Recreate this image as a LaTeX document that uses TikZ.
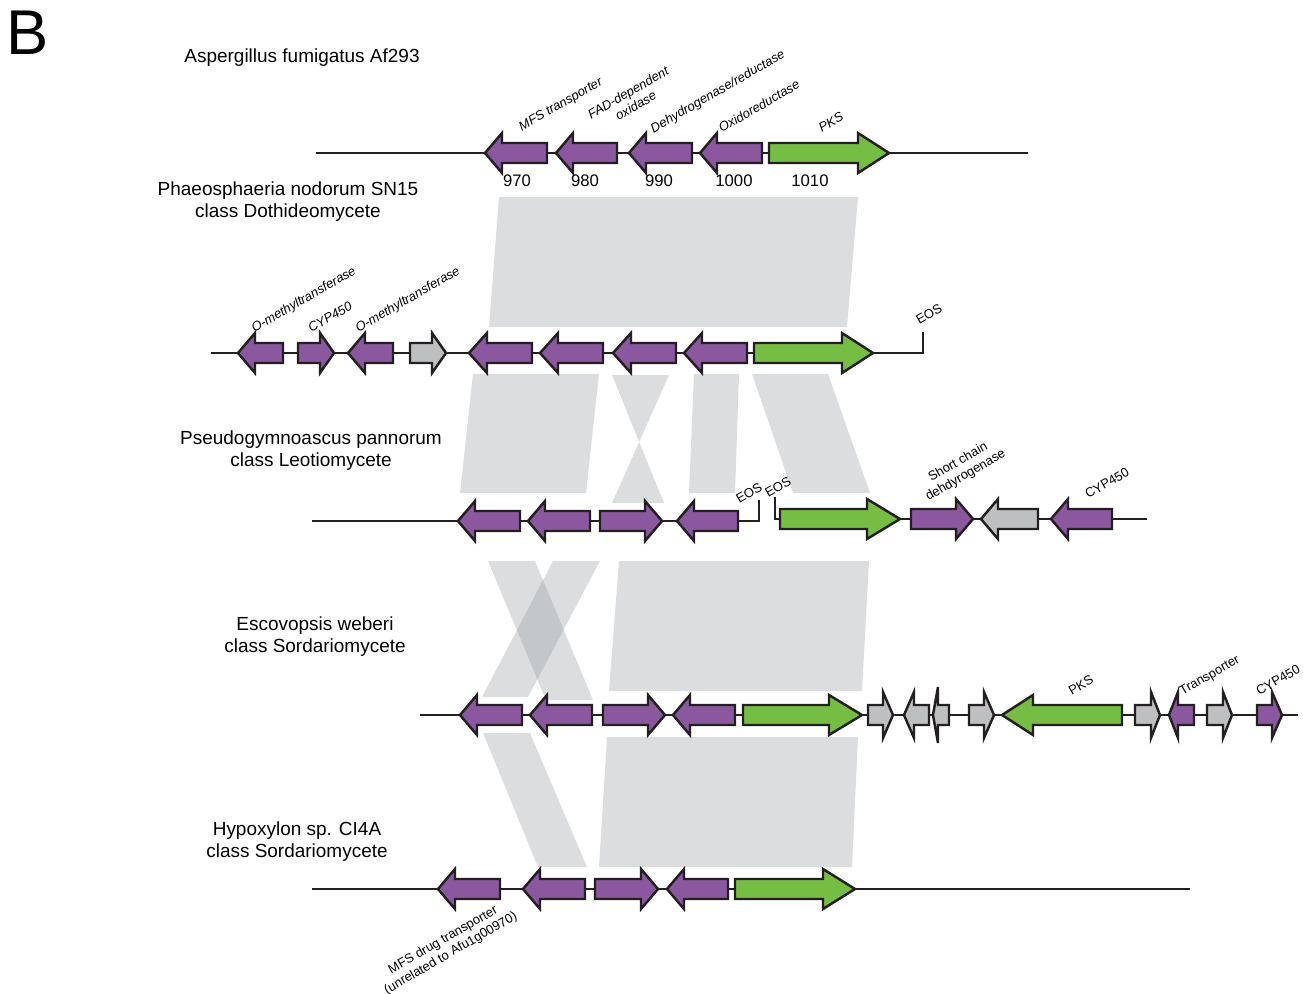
\documentclass[tikz,border=0pt]{standalone}
\usepackage{fontspec}
\setmainfont{Liberation Sans}
\usepackage{tikz}
\usetikzlibrary{positioning}
\definecolor{genepurple}{RGB}{139,88,160}
\definecolor{genegreen}{RGB}{118,189,67}
\definecolor{genegray}{RGB}{190,191,193}
\definecolor{outline}{RGB}{35,31,32}
\definecolor{ribbongray}{RGB}{150,155,162}
% gene arrow: tail x, tip x, y, fill, head length, head half height
\newcommand{\gene}[6]{%
  \pgfmathsetmacro{\gbase}{#2-sign(#2-#1)*#5}%
  \filldraw[gene,fill=#4] (#1,#3-10) -- (\gbase,#3-10) -- (\gbase,#3-#6) -- (#2,#3)
    -- (\gbase,#3+#6) -- (\gbase,#3+10) -- (#1,#3+10) -- cycle;}

\begin{document}
\begin{tikzpicture}[x=0.02cm,y=-0.02cm]
\tikzstyle{gene}=[draw=outline, line width=1.4pt, line join=miter]
\tikzstyle{backbone}=[draw=outline, line width=1.1pt]
\tikzstyle{ribbon}=[fill=ribbongray, fill opacity=0.34]
\tikzstyle{species}=[inner sep=0, align=center, font=\fontsize{10.8}{12.6}\selectfont]
\tikzstyle{glabel}=[inner sep=0, align=center, rotate=30, font=\fontsize{7.4}{8.6}\selectfont]
\tikzstyle{ilabel}=[glabel, font=\fontsize{7.4}{8.6}\selectfont\itshape]
\tikzstyle{number}=[inner sep=0, font=\fontsize{9.5}{11}\selectfont]
\useasboundingbox (0,0) rectangle (1303,994);

	\node[inner sep=0, font=\fontsize{36}{40}\selectfont] (panel) at (28,33) {B};

	% species names
	\node[species] (sp1) at (302,58) {Aspergillus fumigatus Af293};
	\node[species] (sp2) at (288,202) {Phaeosphaeria nodorum SN15\\class Dothideomycete};
	\node[species] (sp3) at (311,451) {Pseudogymnoascus pannorum\\class Leotiomycete};
	\node[species] (sp4) at (315,637) {Escovopsis weberi\\class Sordariomycete};
	\node[species] (sp5) at (297,842) {Hypoxylon sp. CI4A\\class Sordariomycete};

	% homology ribbons
	\fill[ribbon] (499,197) -- (858,197) -- (847,327) -- (489,327) -- cycle;
	\fill[ribbon] (473,374) -- (599,374) -- (586,493) -- (460,493) -- cycle;
	\fill[ribbon] (612,375) -- (669,375) -- (612,503) -- (664,503) -- cycle;
	\fill[ribbon] (694,374) -- (739,374) -- (735,493) -- (689,493) -- cycle;
	\fill[ribbon] (752,374) -- (828,374) -- (870,493) -- (793,493) -- cycle;
	\fill[ribbon] (488,561) -- (535,561) -- (593,700) -- (546,700) -- cycle;
	\fill[ribbon] (553,561) -- (600,561) -- (528,697) -- (482,697) -- cycle;
	\fill[ribbon] (619,561) -- (869,561) -- (862,691) -- (609,691) -- cycle;
	\fill[ribbon] (483,733) -- (530,733) -- (587,867) -- (538,867) -- cycle;
	\fill[ribbon] (607,737) -- (858,737) -- (852,867) -- (599,867) -- cycle;

	% backbones
	\draw[backbone] (316,153) -- (1028,153);
	\draw[backbone] (211,353) -- (923,353) -- (923,332);
	\draw[backbone] (312,521) -- (759,521) -- (759,500);
	\draw[backbone] (775,497) -- (775,519) -- (1147,519);
	\draw[backbone] (420,715) -- (1298,715);
	\draw[backbone] (312,889) -- (1190,889);

	% Aspergillus fumigatus
	\gene{547}{485}{153}{genepurple}{17}{20}
	\gene{617}{556}{153}{genepurple}{17}{20}
	\gene{692}{629}{153}{genepurple}{17}{20}
	\gene{762}{700}{153}{genepurple}{17}{20}
	\gene{769}{889}{153}{genegreen}{31}{20}
	\node[ilabel] (l1a) at (561,105) {MFS transporter};
	\node[ilabel] (l1b) at (632,99) {FAD-dependent\\oxidase};
	\node[ilabel] (l1c) at (718,92) {Dehydrogenase/reductase};
	\node[ilabel] (l1d) at (759,106) {Oxidoreductase};
	\node[ilabel] (l1e) at (831,122) {PKS};
	\node[number] (n970) at (517,181) {970};
	\node[number] (n980) at (585,181) {980};
	\node[number] (n990) at (659,181) {990};
	\node[number] (n1000) at (734,181) {1000};
	\node[number] (n1010) at (810,181) {1010};

	% Phaeosphaeria nodorum
	\gene{283}{238}{353}{genepurple}{17}{20}
	\gene{298}{334}{353}{genepurple}{14}{20}
	\gene{393}{348}{353}{genepurple}{17}{20}
	\gene{410}{446}{353}{genegray}{14}{20}
	\gene{532}{469}{353}{genepurple}{18}{20}
	\gene{603}{540}{353}{genepurple}{18}{20}
	\gene{676}{613}{353}{genepurple}{18}{20}
	\gene{747}{684}{353}{genepurple}{18}{20}
	\gene{754}{873}{353}{genegreen}{31}{20}
	\node[ilabel] (l2a) at (304,300) {O-methyltransferase};
	\node[ilabel] (l2b) at (330,317) {CYP450};
	\node[ilabel] (l2c) at (408,300) {O-methyltransferase};
	\node[glabel] (l2d) at (929,314) {EOS};

	% Pseudogymnoascus pannorum
	\gene{520}{458}{521}{genepurple}{17}{20}
	\gene{590}{528}{521}{genepurple}{17}{20}
	\gene{600}{662}{521}{genepurple}{17}{20}
	\gene{738}{677}{521}{genepurple}{17}{20}
	\gene{780}{900}{519}{genegreen}{33}{20}
	\gene{911}{973}{519}{genepurple}{17}{20}
	\gene{1038}{981}{519}{genegray}{17}{20}
	\gene{1112}{1051}{519}{genepurple}{17}{20}
	\node[glabel] (l3a) at (749,493) {EOS};
	\node[glabel] (l3b) at (778,487) {EOS};
	\node[glabel] (l3c) at (962,469) {Short chain\\dehdyrogenase};
	\node[glabel] (l3d) at (1107,483) {CYP450};

	% Escovopsis weberi
	\gene{522}{460}{715}{genepurple}{17}{20}
	\gene{592}{530}{715}{genepurple}{17}{20}
	\gene{603}{665}{715}{genepurple}{17}{20}
	\gene{735}{673}{715}{genepurple}{17}{20}
	\gene{743}{862}{715}{genegreen}{33}{20}
	\gene{868}{893}{715}{genegray}{10}{23}
	\gene{929}{904}{715}{genegray}{10}{23}
	\gene{949}{933}{715}{genegray}{5}{28}
	\gene{969}{994}{715}{genegray}{10}{23}
	\gene{1122}{1002}{715}{genegreen}{31}{20}
	\gene{1135}{1160}{715}{genegray}{9}{23}
	\gene{1194}{1169}{715}{genepurple}{9}{23}
	\gene{1207}{1232}{715}{genegray}{9}{23}
	\gene{1257}{1282}{715}{genepurple}{10}{23}
	\node[glabel] (l4a) at (1081,685) {PKS};
	\node[glabel] (l4b) at (1210,676) {Transporter};
	\node[glabel] (l4c) at (1278,680) {CYP450};

	% Hypoxylon sp.
	\gene{500}{438}{889}{genepurple}{17}{20}
	\gene{585}{523}{889}{genepurple}{17}{20}
	\gene{595}{658}{889}{genepurple}{17}{20}
	\gene{728}{667}{889}{genepurple}{17}{20}
	\gene{735}{855}{889}{genegreen}{32}{20}
	\node[glabel] (l5a) at (447,947) {MFS drug transporter\\(unrelated to Afu1g00970)};

\end{tikzpicture}
\end{document}
